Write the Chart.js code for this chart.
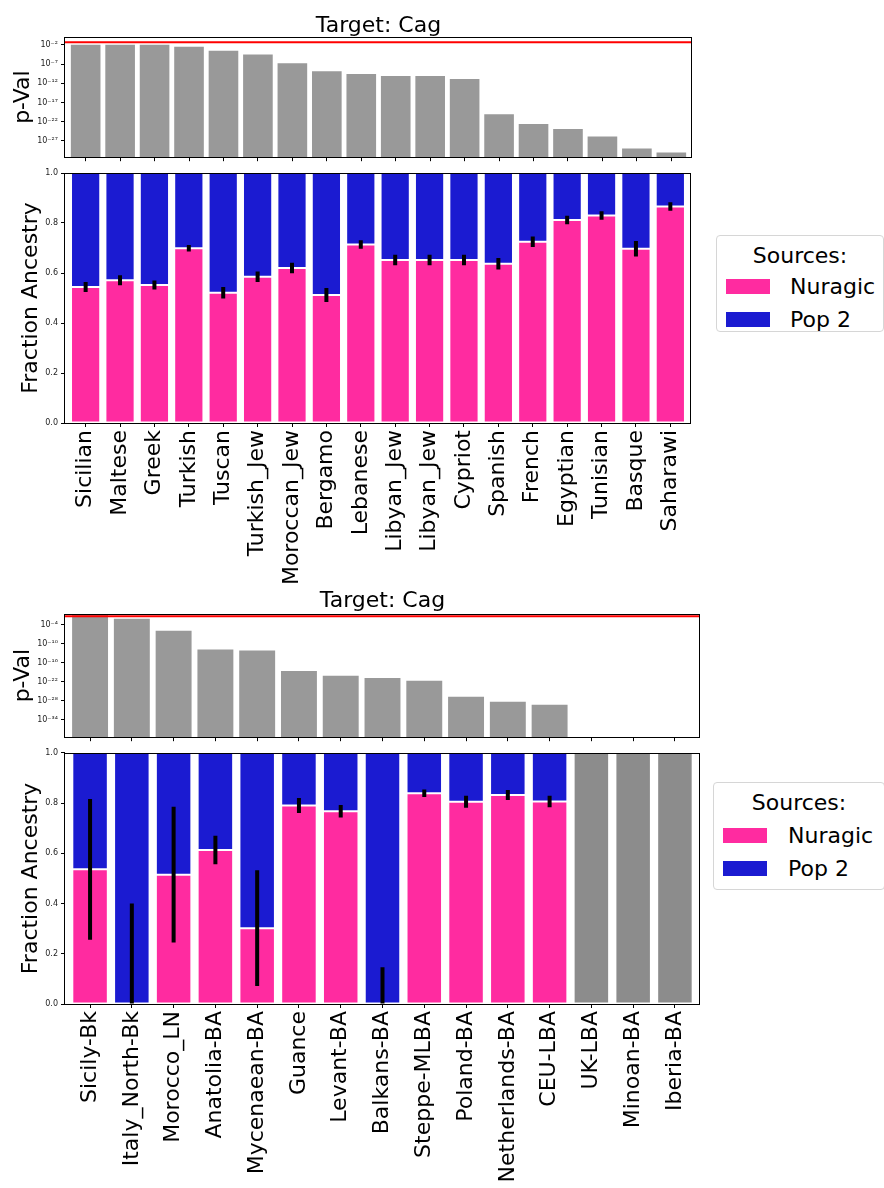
<!DOCTYPE html>
<html><head><meta charset="utf-8">
<script src="https://cdn.jsdelivr.net/npm/chart.js@4.4.0/dist/chart.umd.min.js"></script>
<style>
html,body{margin:0;padding:0;background:#fff;}
body{width:884px;height:1188px;position:relative;overflow:hidden;font-family:'DejaVu Sans',sans-serif;}
canvas{position:absolute;}
.legend{position:absolute;border:1px solid #d6d6d6;border-radius:4px;background:#fff;box-sizing:border-box;}
.legend div{position:absolute;font-size:22px;line-height:26px;color:#000;white-space:nowrap;}
.legend .sw{height:15px;width:44px;}
</style></head>
<body>
<canvas id="c1" width="700" height="165" style="left:0;top:0"></canvas>
<canvas id="c2" width="700" height="430" style="left:0;top:165px"></canvas>
<canvas id="c3" width="710" height="160" style="left:0;top:585px"></canvas>
<canvas id="c4" width="710" height="443" style="left:0;top:745px"></canvas>

<div class="legend" style="left:716px;top:235px;width:168px;height:97px">
  <div style="left:0;width:166px;text-align:center;top:7px">Sources:</div>
  <div class="sw" style="left:9px;top:43px;background:#ff2ba0"></div>
  <div style="left:73px;top:38px">Nuragic</div>
  <div class="sw" style="left:9px;top:76px;background:#1b1bd1"></div>
  <div style="left:73px;top:71px">Pop 2</div>
</div>
<div class="legend" style="left:713px;top:782px;width:172px;height:108px">
  <div style="left:0;width:170px;text-align:center;top:7px">Sources:</div>
  <div class="sw" style="left:9px;top:45px;background:#ff2ba0"></div>
  <div style="left:74px;top:40px">Nuragic</div>
  <div class="sw" style="left:9px;top:78px;background:#1b1bd1"></div>
  <div style="left:74px;top:73px">Pop 2</div>
</div>

<script>
// ---------------- DATA ----------------
const title = 'Target: Cag';
const threshold = 0.05;

const cats1 = ['Sicilian','Maltese','Greek','Turkish','Tuscan','Turkish_Jew','Moroccan_Jew','Bergamo','Lebanese','Libyan_Jew','Libyan_Jew','Cypriot','Spanish','French','Egyptian','Tunisian','Basque','Saharawi'];
const pval1 = [1e-2, 1e-2, 1e-2, 3e-3, 3e-4, 3e-5, 1.6e-7, 1.3e-9, 2.5e-10, 8e-11, 8e-11, 1.3e-11, 8e-21, 2.5e-23, 1.3e-24, 1.3e-26, 1e-29, 1e-30];
const nuragic1 = [0.544, 0.571, 0.552, 0.699, 0.521, 0.585, 0.620, 0.512, 0.714, 0.652, 0.652, 0.652, 0.637, 0.725, 0.812, 0.830, 0.697, 0.866];
const err1 = [0.020, 0.020, 0.018, 0.013, 0.023, 0.021, 0.021, 0.028, 0.017, 0.021, 0.021, 0.021, 0.023, 0.021, 0.017, 0.017, 0.031, 0.017];
const pTicks1 = [-2, -7, -12, -17, -22, -27];

const cats2 = ['Sicily-Bk','Italy_North-Bk','Morocco_LN','Anatolia-BA','Mycenaean-BA','Guance','Levant-BA','Balkans-BA','Steppe-MLBA','Poland-BA','Netherlands-BA','CEU-LBA','UK-LBA','Minoan-BA','Iberia-BA'];
const pval2 = [0.5, 8e-3, 1.3e-6, 1.6e-12, 8e-13, 2.5e-19, 8e-21, 1.6e-21, 2e-22, 2e-27, 5e-29, 6e-30, null, null, null];
const nuragic2 = [0.536, 0.0, 0.515, 0.613, 0.302, 0.790, 0.767, 0.0, 0.839, 0.805, 0.832, 0.806, null, null, null];
const err2 = [0.28, 0.40, 0.27, 0.057, 0.23, 0.03, 0.025, 0.146, 0.015, 0.024, 0.02, 0.023, null, null, null];
const pTicks2 = [-4, -10, -16, -22, -28, -34];

const fracTicks = [0, 0.2, 0.4, 0.6, 0.8, 1.0];

// ---------------- STYLE ----------------
const FONT = "'DejaVu Sans', sans-serif";
const PINK = '#ff2ba0', BLUE = '#1b1bd1', GRAY = '#999999', FAIL = '#8c8c8c';
const XPAD = 0.6;

const frame = {
  id: 'frame',
  afterDraw(chart) {
    const {ctx, chartArea: a} = chart;
    ctx.save();
    ctx.strokeStyle = '#000';
    ctx.lineWidth = 1;
    const l = Math.round(a.left) - 0.5, t = Math.round(a.top) + 0.5;
    const r = Math.round(a.right) - 0.5, b = Math.round(a.bottom) + 0.5;
    ctx.strokeRect(l, t, r - l, b - t);
    ctx.restore();
  }
};

const SUP = {'-':'\u207B','0':'\u2070','1':'\u00B9','2':'\u00B2','3':'\u00B3','4':'\u2074','5':'\u2075','6':'\u2076','7':'\u2077','8':'\u2078','9':'\u2079'};
const sup = s => String(s).split('').map(c => SUP[c] || c).join('');

const xGrid = {display: true, offset: false, drawOnChartArea: false, drawTicks: true, tickLength: 4, color: '#000', lineWidth: 1};
const yGrid = {display: true, offset: false, drawOnChartArea: false, drawTicks: true, tickLength: 4, color: '#000', lineWidth: 1};

function xScale(cats, showLabels, height) {
  return {
    type: 'linear', bounds: 'data', min: -XPAD, max: cats.length - 1 + XPAD, offset: false,
    afterBuildTicks: s => { s.ticks = cats.map((_, i) => ({value: i})); },
    afterFit: s => { s.height = height; },
    grid: xGrid, border: {display: false},
    ticks: {display: showLabels, autoSkip: false, minRotation: 90, maxRotation: 90, padding: 3,
      color: '#000', font: {family: FONT, size: 22},
      callback: v => (cats[v] !== undefined ? cats[v] : '')}
  };
}

function logY(exps, lo, hi) {
  return {
    type: 'logarithmic', bounds: 'data', min: Math.pow(10, lo), max: Math.pow(10, hi),
    afterBuildTicks: s => { s.ticks = exps.map(e => ({value: Math.pow(10, e)})); },
    afterFit: s => { s.width = 65; },
    grid: yGrid, border: {display: false},
    ticks: {autoSkip: false, padding: 3, color: '#222', font: {family: FONT, size: 8},
      callback: v => '10' + sup(Math.round(Math.log10(v)))},
    title: {display: true, text: 'p-Val', color: '#000', font: {family: FONT, size: 22}, padding: {top: 10, bottom: 0}}
  };
}

function fracY() {
  return {
    type: 'linear', bounds: 'data', min: 0, max: 1,
    afterBuildTicks: s => { s.ticks = fracTicks.map(v => ({value: v})); },
    afterFit: s => { s.width = 65; },
    grid: yGrid, border: {display: false},
    ticks: {autoSkip: false, padding: 3, color: '#222', font: {family: FONT, size: 8},
      callback: v => Number(v).toFixed(1)},
    title: {display: true, text: 'Fraction Ancestry', color: '#000', font: {family: FONT, size: 22}, padding: {top: 18, bottom: 0}}
  };
}

const common = {
  responsive: false, animation: false, events: [],
  plugins: {legend: {display: false}, tooltip: {enabled: false}}
};

function pvalChart(id, cats, pvals, exps, lo, hi, padRight, titlePad, xH) {
  new Chart(document.getElementById(id), {
    data: {
      datasets: [
        {type: 'line', label: 'threshold', order: 0,
         data: [{x: -XPAD, y: threshold}, {x: cats.length - 1 + XPAD, y: threshold}],
         borderColor: '#ff0000', borderWidth: 2, pointRadius: 0},
        {type: 'bar', label: 'p-Val', order: 1,
         data: pvals.map((p, i) => ({x: i, y: p})),
         backgroundColor: GRAY, borderWidth: 0, categoryPercentage: 1, barPercentage: 0.86, grouped: false}
      ]
    },
    options: Object.assign({}, common, {
      layout: {padding: {left: 0, right: padRight, top: 0, bottom: 0}},
      plugins: Object.assign({}, common.plugins, {
        title: {display: true, text: title, fullSize: false, color: '#000',
          font: {family: FONT, size: 22, weight: 'normal', lineHeight: 1}, padding: titlePad}
      }),
      scales: {x: xScale(cats, false, xH), y: logY(exps, lo, hi)}
    }),
    plugins: [frame]
  });
}

function fracChart(id, cats, nur, err, padRight, padTop, xH) {
  const barOpts = {type: 'bar', grouped: false, categoryPercentage: 1, barPercentage: 0.85,
    borderWidth: 1, borderColor: 'rgba(255,255,255,0.65)', borderSkipped: false, order: 1};
  new Chart(document.getElementById(id), {
    data: {
      datasets: [
        {type: 'bar', label: 'error', order: 0, grouped: false, maxBarThickness: 4, borderWidth: 0,
         backgroundColor: '#000',
         data: nur.map((v, i) => ({x: i, y: v == null ? null : [Math.max(0, v - err[i]), Math.min(1, v + err[i])]}))},
        Object.assign({label: 'Nuragic', backgroundColor: PINK,
         data: nur.map((v, i) => ({x: i, y: v == null ? null : [0, v]}))}, barOpts),
        Object.assign({label: 'Pop 2', backgroundColor: BLUE,
         data: nur.map((v, i) => ({x: i, y: v == null ? null : [v, 1]}))}, barOpts),
        Object.assign({label: 'failed', backgroundColor: FAIL,
         data: nur.map((v, i) => ({x: i, y: v == null ? [0, 1] : null}))}, barOpts)
      ]
    },
    options: Object.assign({}, common, {
      layout: {padding: {left: 0, right: padRight, top: padTop, bottom: 0}},
      scales: {x: xScale(cats, true, xH), y: fracY()}
    }),
    plugins: [frame]
  });
}

pvalChart('c1', cats1, pval1, pTicks1, -31.25, 0.04, 8, {top: 15, bottom: 0}, 5);
fracChart('c2', cats1, nuragic1, err1, 8, 8, 172);
pvalChart('c3', cats2, pval2, pTicks2, -39.5, -0.57, 10, {top: 5, bottom: 2}, 6);
fracChart('c4', cats2, nuragic2, err2, 10, 6, 184);
</script>
</body></html>
